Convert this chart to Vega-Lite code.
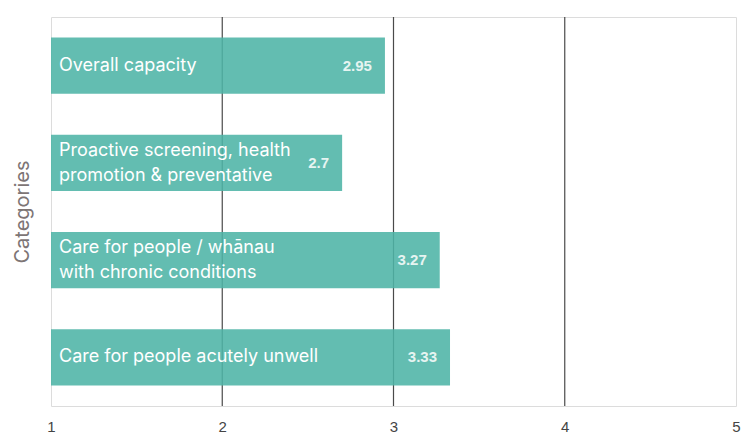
{
  "$schema": "https://vega.github.io/schema/vega-lite/v6.json",
  "width": 685,
  "height": 389,
  "autosize": {"type": "none"},
  "padding": {"left": 51, "top": 17, "right": 6, "bottom": 31},
  "background": "#ffffff",
  "config": {
    "view": {"stroke": "#dcdcdc", "strokeWidth": 1},
    "text": {"lineBreak": "\n"}
  },
  "datasets": {
    "bars": [
      {"category": "Overall capacity", "label": "Overall capacity", "value": 2.95},
      {"category": "Proactive screening", "label": "Proactive screening, health\npromotion & preventative", "value": 2.7},
      {"category": "Chronic", "label": "Care for people / whānau\nwith chronic conditions", "value": 3.27},
      {"category": "Acute", "label": "Care for people acutely unwell", "value": 3.33}
    ],
    "grid": [{"g": 2}, {"g": 3}, {"g": 4}]
  },
  "layer": [
    {
      "data": {"name": "grid"},
      "mark": {"type": "rule", "color": "#4a4a4a", "strokeWidth": 1.2},
      "encoding": {
        "x": {"field": "g", "type": "quantitative", "scale": {"domain": [1, 5], "nice": false, "zero": false}}
      }
    },
    {
      "data": {"name": "bars"},
      "layer": [
        {
          "mark": {"type": "bar", "color": "#4db4a6", "fillOpacity": 0.88},
          "encoding": {
            "y": {"field": "category", "type": "nominal", "sort": null,
                  "scale": {"paddingInner": 0.42, "paddingOuter": 0.21},
                  "axis": {"title": "Categories", "labels": false, "ticks": false, "domain": false,
                           "titleFont": "Inter", "titleFontSize": 20, "titleFontWeight": "normal",
                           "titleColor": "#7d7575", "titlePadding": 19}},
            "x": {"field": "value", "type": "quantitative",
                  "scale": {"domain": [1, 5], "nice": false, "zero": false},
                  "axis": {"title": null, "values": [1, 2, 3, 4, 5], "format": "d", "grid": false, "ticks": false, "domain": false,
                           "labelFont": "Liberation Sans", "labelFontSize": 15, "labelColor": "#444444",
                           "labelPadding": 13, "labelFlush": false, "labelBound": false, "labelOverlap": false}},
            "x2": {"datum": 1}
          }
        },
        {
          "transform": [{"filter": "indexof(datum.label, '\\n') < 0"}],
          "mark": {"type": "text", "align": "left", "baseline": "middle", "dx": 8, "font": "Inter",
                   "fontSize": 18, "color": "#ffffff"},
          "encoding": {
            "y": {"field": "category", "type": "nominal", "sort": null},
            "x": {"datum": 1},
            "text": {"field": "label"}
          }
        },
        {
          "transform": [{"filter": "indexof(datum.label, '\\n') >= 0"}],
          "mark": {"type": "text", "align": "left", "baseline": "middle", "dx": 8, "dy": -12, "font": "Inter",
                   "fontSize": 18, "color": "#ffffff", "lineHeight": 25},
          "encoding": {
            "y": {"field": "category", "type": "nominal", "sort": null},
            "x": {"datum": 1},
            "text": {"field": "label"}
          }
        },
        {
          "mark": {"type": "text", "align": "right", "baseline": "middle", "dx": -13,
                   "font": "Liberation Sans", "fontWeight": "bold", "fontSize": 15, "color": "#e6f4f1"},
          "encoding": {
            "y": {"field": "category", "type": "nominal", "sort": null},
            "x": {"field": "value", "type": "quantitative"},
            "text": {"field": "value", "type": "quantitative", "format": ".3~f"}
          }
        }
      ]
    }
  ]
}
